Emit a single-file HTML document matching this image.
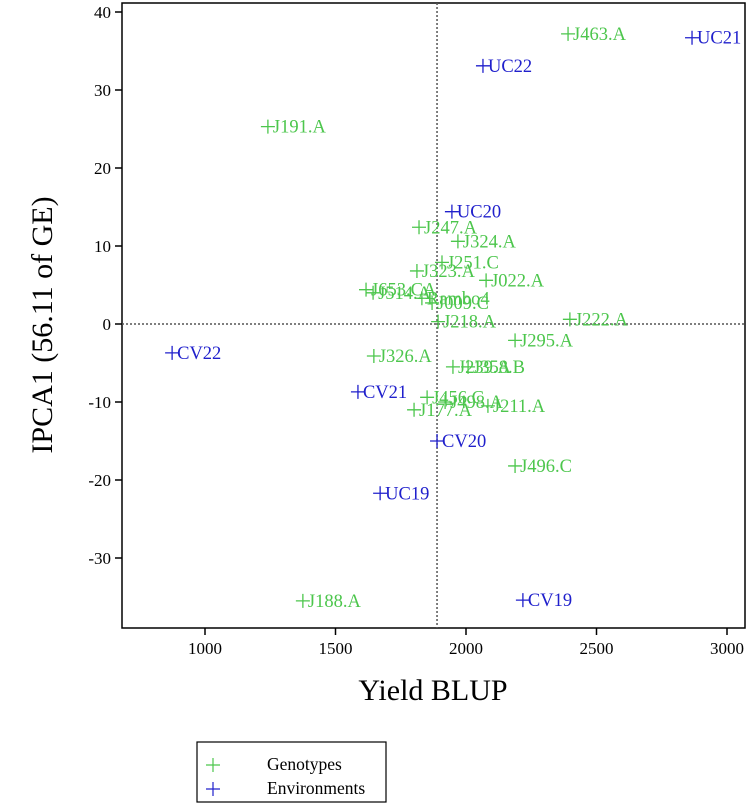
<!DOCTYPE html>
<html><head><meta charset="utf-8">
<style>body{margin:0;background:#fff}svg{display:block;font-family:"Liberation Serif",serif}</style>
</head><body>
<svg id="c" width="754" height="808"></svg>
<script>
const genoNames=["J463.A","J191.A","J247.A","J324.A","J251.C","J323.A","J022.A","J653.CA","J514.A","Rambo4","J009.C","J218.A","J222.A","J295.A","J326.A","J239.A","J358.B","J456.C","J498.A","J177.A","J211.A","J496.C","J188.A"];
const genoX=[2391,1241,1820,1969,1908,1812,2077,1617,1644,1831,1870,1893,2398,2188,1647,1950,2008,1851,1920,1801,2084,2188,1375];
const genoY=[37.2,25.3,12.4,10.6,7.9,6.8,5.6,4.4,4.0,3.3,2.7,0.3,0.6,-2.1,-4.1,-5.5,-5.5,-9.4,-10.0,-11.0,-10.5,-18.2,-35.5];
const envNames=["UC21","UC22","UC20","CV22","CV21","CV20","UC19","CV19"];
const envX=[2866,2065,1946,874,1586,1889,1671,2218];
const envY=[36.7,33.1,14.4,-3.7,-8.7,-15.0,-21.7,-35.4];
const xTicks=[1000,1500,2000,2500,3000];
const yTicks=[40,30,20,10,0,-10,-20,-30];
const meanYield=1889;
const NS="http://www.w3.org/2000/svg",svg=document.getElementById('c');
const L=122,R=745,T=3,B=628;
const sx=v=>205+(v-1000)*0.261, sy=v=>324-v*7.8;
function mk(t,a,p){const e=document.createElementNS(NS,t);for(const k in a)e.setAttribute(k,a[k]);(p||svg).appendChild(e);return e;}
const box=mk('rect',{x:L,y:T,width:R-L,height:B-T,fill:'none',stroke:'#000','stroke-width':1.5});


const vl=mk('line',{x1:sx(meanYield),x2:sx(meanYield),y1:T,y2:B,stroke:'#555','stroke-dasharray':'2,2','stroke-width':1.5});


const hl=mk('line',{x1:L,x2:R,y1:sy(0),y2:sy(0),stroke:'#555','stroke-dasharray':'2,2','stroke-width':1.5});


xTicks.forEach(v=>{const x=sx(v);mk('line',{x1:x,x2:x,y1:B,y2:B+7,stroke:'#000','stroke-width':1.5});
 const t=mk('text',{x:x,y:B+26,'text-anchor':'middle','font-size':17});t.textContent=v;
 
 });
yTicks.forEach(v=>{const y=sy(v);mk('line',{x1:L-7,x2:L,y1:y,y2:y,stroke:'#000','stroke-width':1.5});
 const t=mk('text',{x:L-11,y:y+6,'text-anchor':'end','font-size':17});t.textContent=v;
 
 });
const xt=mk('text',{x:433,y:700,'text-anchor':'middle','font-size':30});xt.textContent='Yield BLUP';


const yt=mk('text',{x:0,y:0,'text-anchor':'middle','font-size':30,transform:'translate(52,325) rotate(-90)'});yt.textContent='IPCA1 (56.11 of GE)';


function pt(n,x,y,col,nm){const g=mk('g',{});
 
 
 const px=sx(x),py=sy(y);
 mk('path',{d:`M${px-7} ${py}H${px+7}M${px} ${py-7}V${py+7}`,stroke:col,'stroke-width':1.3},g);
 const t=mk('text',{x:px+5,y:py+6,fill:col,'font-size':18.5},g);t.textContent=n;}
genoNames.forEach((n,i)=>pt(n,genoX[i],genoY[i],'#4cc64c','genotype-point'));
envNames.forEach((n,i)=>pt(n,envX[i],envY[i],'#2020cc','environment-point'));
const lg=mk('g',{});


mk('rect',{x:197,y:742,width:189,height:60,fill:'#fff',stroke:'#000','stroke-width':1.2},lg);
[['Genotypes','#4cc64c',765],['Environments','#2020cc',789]].forEach(([n,c,y])=>{
 const e=mk('g',{},lg);
 
 
 mk('path',{d:`M${206} ${y}H${220}M213 ${y-7}V${y+7}`,stroke:c,'stroke-width':1.2},e);
 const t=mk('text',{x:267,y:y+5,'font-size':17.5},e);t.textContent=n;});
</script>
</body></html>
